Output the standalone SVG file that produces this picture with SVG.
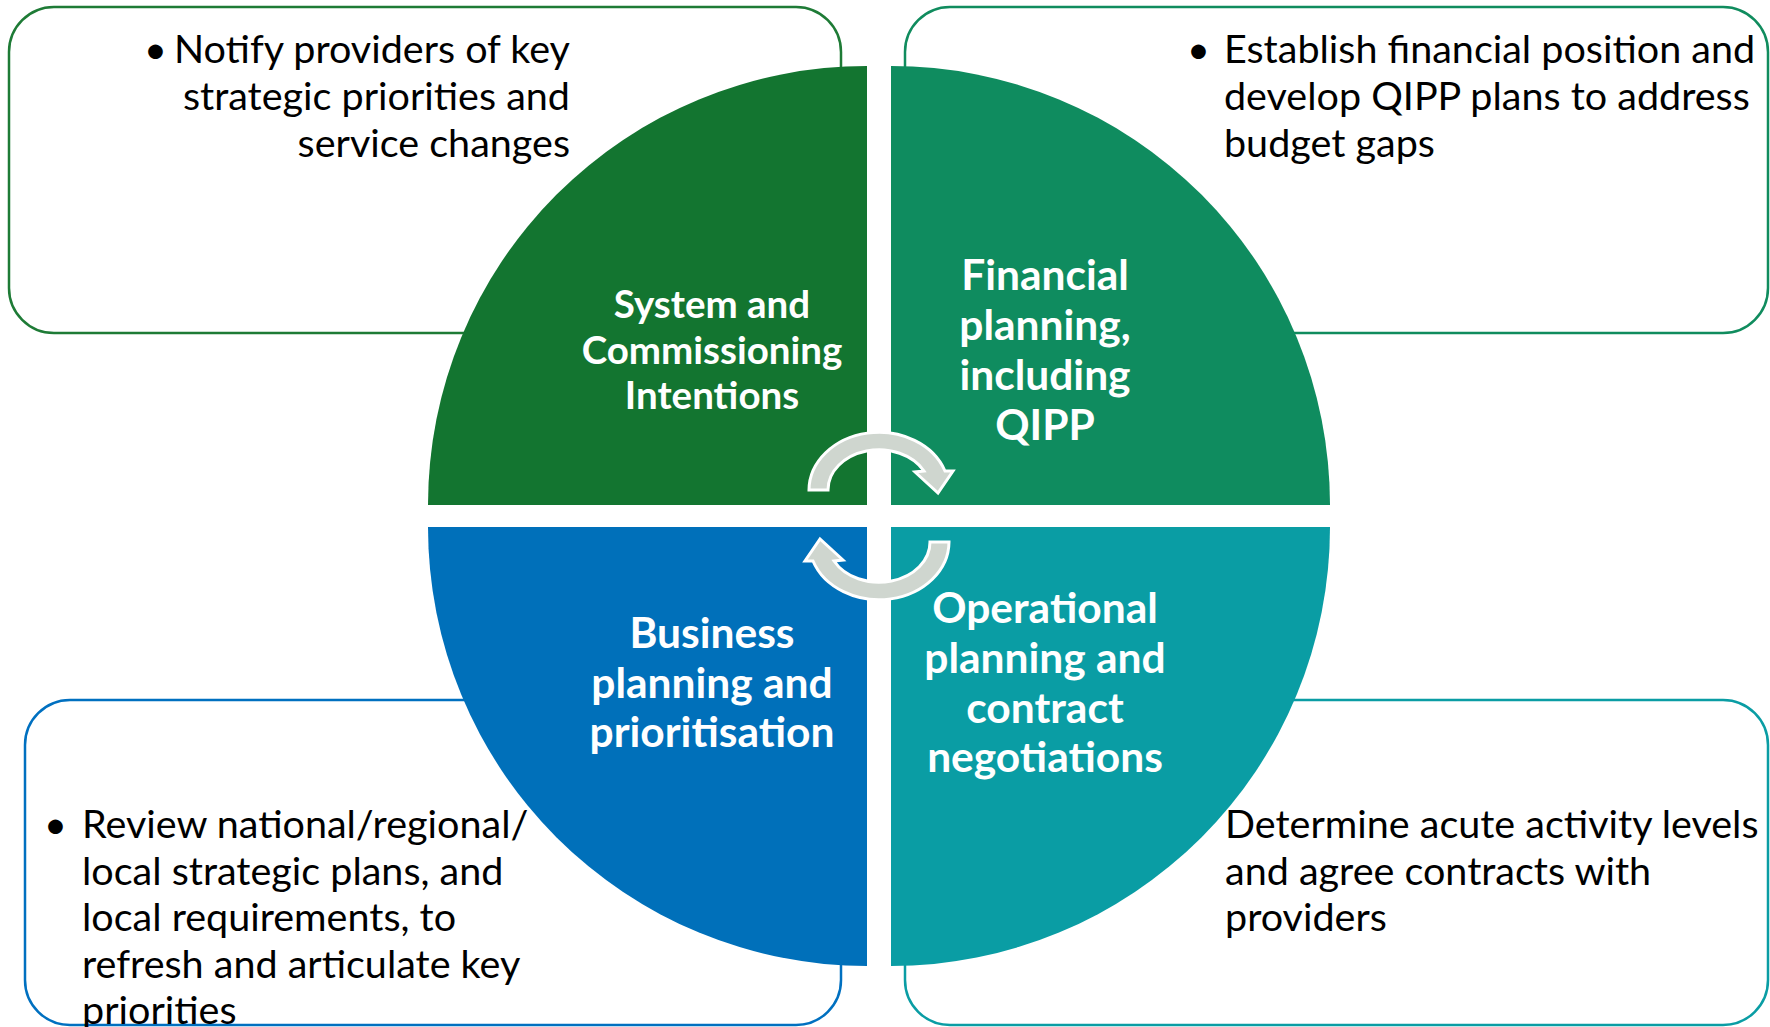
<svg xmlns="http://www.w3.org/2000/svg" width="1770" height="1027" viewBox="0 0 1770 1027">
<style>
.box{fill:#fff;stroke-width:2.5}
.body{font-family:Lato,"Liberation Sans",sans-serif;font-size:39.5px;fill:#000}
.lbl{font-family:Lato,"Liberation Sans",sans-serif;font-weight:bold;fill:#fff;text-anchor:middle}
.arrow{fill:#CFD6CF;stroke:#fff;stroke-width:3;stroke-linejoin:miter}
</style>
<rect width="1770" height="1027" fill="#fff"/>
<g id="box-tl"><rect class="box" x="9" y="7" width="832" height="326" rx="45" stroke="#1E7B36"/>
<text class="body" x="144" y="63">•</text>
<text class="body" text-anchor="end"><tspan x="570" y="63">Notify providers of key</tspan><tspan x="570" y="110">strategic priorities and</tspan><tspan x="570" y="157">service changes</tspan></text></g>
<g id="box-tr"><rect class="box" x="905" y="7" width="863" height="326" rx="45" stroke="#108C5E"/>
<text class="body" x="1187" y="63">•</text>
<text class="body"><tspan x="1224" y="63">Establish financial position and</tspan><tspan x="1224" y="110">develop QIPP plans to address</tspan><tspan x="1224" y="157">budget gaps</tspan></text></g>
<g id="box-bl"><rect class="box" x="25" y="700" width="816" height="325" rx="45" stroke="#0070C0"/>
<text class="body" x="44" y="838">•</text>
<text class="body"><tspan x="82" y="838">Review national/regional/</tspan><tspan x="82" y="885">local strategic plans, and</tspan><tspan x="82" y="931">local requirements, to</tspan><tspan x="82" y="978">refresh and articulate key</tspan><tspan x="82" y="1024">priorities</tspan></text></g>
<g id="box-br"><rect class="box" x="905" y="700" width="863" height="325" rx="45" stroke="#0A9DA4"/>
<text class="body"><tspan x="1225" y="838">Determine acute activity levels</tspan><tspan x="1225" y="885">and agree contracts with</tspan><tspan x="1225" y="931">providers</tspan></text></g>
<g id="q-tl"><path d="M867,505 L428,505 A439,439 0 0 1 867,66 Z" fill="#137530"/>
<text class="lbl" font-size="38.5"><tspan x="712" y="318">System and</tspan><tspan x="712" y="364">Commissioning</tspan><tspan x="712" y="409">Intentions</tspan></text></g>
<g id="q-tr"><path d="M891,505 L891,66 A439,439 0 0 1 1330,505 Z" fill="#0F8C5F"/>
<text class="lbl" font-size="42.5"><tspan x="1045" y="290">Financial</tspan><tspan x="1045" y="340">planning,</tspan><tspan x="1045" y="390">including</tspan><tspan x="1045" y="440">QIPP</tspan></text></g>
<g id="q-bl"><path d="M867,527 L867,966 A439,439 0 0 1 428,527 Z" fill="#0070BA"/>
<text class="lbl" font-size="42.5"><tspan x="712" y="648">Business</tspan><tspan x="712" y="698">planning and</tspan><tspan x="712" y="747">prioritisation</tspan></text></g>
<g id="q-br"><path d="M891,527 L1330,527 A439,439 0 0 1 891,966 Z" fill="#0A9DA4"/>
<text class="lbl" font-size="42.5"><tspan x="1045" y="623">Operational</tspan><tspan x="1045" y="673">planning and</tspan><tspan x="1045" y="723">contract</tspan><tspan x="1045" y="772">negotiations</tspan></text></g>
<g id="connectors">
<path id="cycle-top" class="arrow" d="M809,490 A70,58 0 0 1 945,471 L953,471 L938,493 L915,472 L924,471 A51,40 0 0 0 828,490 Z"/>
<path id="cycle-bottom" class="arrow" d="M809,490 A70,58 0 0 1 945,471 L953,471 L938,493 L915,472 L924,471 A51,40 0 0 0 828,490 Z" transform="rotate(180 879 516)"/>
</g>
</svg>
